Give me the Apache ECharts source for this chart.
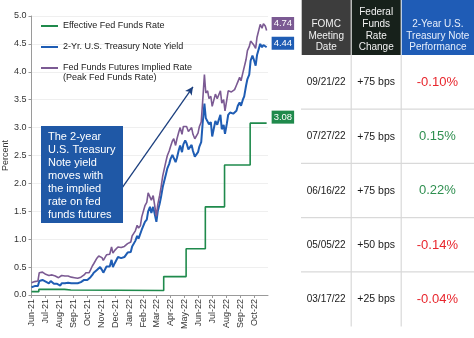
<!DOCTYPE html>
<html><head><meta charset="utf-8">
<script src="https://cdn.jsdelivr.net/npm/echarts@6/dist/echarts.min.js"></script>
<style>html,body{margin:0;padding:0;background:#fff}#c{width:474px;height:338px}</style>
</head><body><div id="c"></div>
<script>
// ---------- DATA ----------
const dates = [
 '2021-06-01','2021-06-04','2021-06-08','2021-06-11','2021-06-15','2021-06-18','2021-06-22','2021-06-25','2021-06-29',
 '2021-07-02','2021-07-06','2021-07-09','2021-07-13','2021-07-16','2021-07-20','2021-07-23','2021-07-27','2021-07-30',
 '2021-08-03','2021-08-06','2021-08-10','2021-08-13','2021-08-17','2021-08-20','2021-08-24','2021-08-27','2021-08-31',
 '2021-09-03','2021-09-07','2021-09-10','2021-09-14','2021-09-17','2021-09-21','2021-09-24','2021-09-28',
 '2021-10-01','2021-10-05','2021-10-08','2021-10-12','2021-10-15','2021-10-19','2021-10-22','2021-10-26','2021-10-29',
 '2021-11-02','2021-11-05','2021-11-09','2021-11-12','2021-11-16','2021-11-19','2021-11-23','2021-11-26','2021-11-30',
 '2021-12-03','2021-12-07','2021-12-10','2021-12-14','2021-12-17','2021-12-21','2021-12-24','2021-12-28','2021-12-31',
 '2022-01-04','2022-01-07','2022-01-11','2022-01-14','2022-01-18','2022-01-21','2022-01-25','2022-01-28',
 '2022-02-01','2022-02-04','2022-02-08','2022-02-11','2022-02-15','2022-02-18','2022-02-22','2022-02-25',
 '2022-03-01','2022-03-04','2022-03-08','2022-03-11','2022-03-15','2022-03-18','2022-03-22','2022-03-25','2022-03-29',
 '2022-04-01','2022-04-05','2022-04-08','2022-04-12','2022-04-15','2022-04-19','2022-04-22','2022-04-26','2022-04-29',
 '2022-05-03','2022-05-06','2022-05-10','2022-05-13','2022-05-17','2022-05-20','2022-05-24','2022-05-27','2022-05-31',
 '2022-06-03','2022-06-07','2022-06-10','2022-06-14','2022-06-17','2022-06-21','2022-06-24','2022-06-28',
 '2022-07-01','2022-07-05','2022-07-08','2022-07-12','2022-07-15','2022-07-19','2022-07-22','2022-07-26','2022-07-29',
 '2022-08-02','2022-08-05','2022-08-09','2022-08-12','2022-08-16','2022-08-19','2022-08-23','2022-08-26','2022-08-30',
 '2022-09-02','2022-09-06','2022-09-09','2022-09-13','2022-09-16','2022-09-20','2022-09-23','2022-09-27','2022-09-30',
 '2022-10-04','2022-10-07','2022-10-11','2022-10-14','2022-10-18','2022-10-21','2022-10-25','2022-10-28'
];
const treasury2y = [
 0.14,0.15,0.16,0.15,0.16,0.25,0.25,0.27,0.25,
 0.24,0.22,0.21,0.25,0.23,0.20,0.20,0.20,0.19,
 0.17,0.21,0.23,0.21,0.21,0.22,0.23,0.21,0.21,
 0.21,0.22,0.21,0.21,0.23,0.22,0.27,0.30,
 0.27,0.29,0.32,0.36,0.40,0.39,0.45,0.47,0.50,
 0.45,0.40,0.42,0.51,0.51,0.51,0.63,0.50,0.57,
 0.59,0.68,0.66,0.66,0.64,0.68,0.70,0.76,0.73,
 0.77,0.87,0.90,0.97,1.06,1.01,1.03,1.17,
 1.18,1.31,1.35,1.50,1.58,1.47,1.58,1.57,
 1.31,1.50,1.63,1.75,1.94,1.95,2.17,2.27,2.35,
 2.44,2.51,2.53,2.38,2.46,2.60,2.68,2.56,2.70,
 2.77,2.72,2.61,2.58,2.69,2.58,2.48,2.47,2.56,
 2.66,2.74,3.06,3.43,3.17,3.20,3.06,3.10,
 2.84,2.82,3.12,3.05,3.13,3.23,2.97,3.05,2.89,
 3.07,3.23,3.27,3.25,3.25,3.26,3.30,3.39,3.45,
 3.39,3.50,3.56,3.75,3.87,3.95,4.20,4.29,4.22,
 4.11,4.30,4.30,4.50,4.44,4.48,4.48,4.44
];
const impliedPeak = [
 0.22,0.23,0.24,0.23,0.25,0.40,0.39,0.41,0.38,
 0.37,0.36,0.35,0.38,0.36,0.33,0.34,0.33,0.31,
 0.30,0.35,0.36,0.34,0.33,0.34,0.34,0.32,0.31,
 0.31,0.32,0.30,0.30,0.32,0.31,0.36,0.40,
 0.37,0.40,0.45,0.52,0.56,0.58,0.66,0.70,0.73,
 0.67,0.62,0.64,0.72,0.74,0.73,0.86,0.75,0.80,
 0.78,0.86,0.84,0.85,0.83,0.87,0.88,0.92,0.90,
 0.95,1.06,1.08,1.15,1.25,1.20,1.24,1.40,
 1.42,1.60,1.66,1.83,1.80,1.70,1.78,1.76,
 1.41,1.62,1.78,1.92,2.14,2.17,2.40,2.50,2.58,
 2.66,2.76,2.80,2.68,2.80,2.92,3.00,2.88,3.02,
 3.04,3.02,2.93,2.90,3.00,2.88,2.80,2.79,2.90,
 3.02,3.10,3.45,3.95,3.62,3.66,3.52,3.56,
 3.38,3.36,3.60,3.52,3.58,3.66,3.44,3.50,3.30,
 3.50,3.66,3.68,3.64,3.66,3.68,3.76,3.82,3.90,
 3.84,3.98,4.00,4.22,4.38,4.45,4.55,4.58,4.48,
 4.42,4.62,4.64,4.85,4.78,4.86,4.82,4.74
];
const effrDates  = ['2021-06-01','2021-06-17','2021-08-12','2021-08-26','2022-03-17','2022-05-05','2022-06-16','2022-07-28','2022-09-22','2022-10-28'];
const effrValues = [0.06,0.10,0.09,0.08,0.33,0.83,1.58,2.33,3.08,3.08];

const seriesNames = ['Effective Fed Funds Rate','2-Yr. U.S. Treasury Note Yield','Fed Funds Futures Implied Rate'];
const legendSubLine = '(Peak Fed Funds Rate)';
const calloutText = 'The 2-year\nU.S. Treasury\nNote yield\nmoves with\nthe implied\nrate on fed\nfunds futures';
const monthNames = ['Jan','Feb','Mar','Apr','May','Jun','Jul','Aug','Sep','Oct','Nov','Dec'];

const tableHeaders = ['FOMC\nMeeting\nDate','Federal\nFunds\nRate\nChange','2-Year U.S.\nTreasury Note\nPerformance'];
const fomcDates = ['09/21/22','07/27/22','06/16/22','05/05/22','03/17/22'];
const rateChanges = ['+75 bps','+75 bps','+75 bps','+50 bps','+25 bps'];
const notePerformance = [-0.10, 0.15, 0.22, -0.14, -0.04];

// ---------- STYLE / LAYOUT ----------
const FONT = '"Liberation Sans", Arial, Helvetica, sans-serif';
const C_GREEN = '#1f8a4c', C_BLUE = '#1f5db4', C_PURPLE = '#7b5a93';
const colX = [301.7, 351.7, 401.7];
const colW = [49, 49, 72.3];
const headerBg = ['#3d3d3d', '#17211b', '#1f5cb6'];
const headerH = 55, rowH = 54.2;

const chart = echarts.init(document.getElementById('c'), null, {renderer:'canvas'});
const P = s => echarts.time.parse(s);

const graphic = [];
// callout box
graphic.push({type:'rect', shape:{x:41, y:126, width:82, height:97}, style:{fill:'#1f58a6'}, z:10});
graphic.push({type:'text', x:48, y:131, z:11, style:{text:calloutText, fill:'#ffffff', fontSize:11, fontFamily:FONT, lineHeight:12.9, align:'left', verticalAlign:'top'}});
// legend second line
graphic.push({type:'text', x:63, y:78, z:11, style:{text:legendSubLine, fill:'#1a1a1a', fontSize:9, fontFamily:FONT, align:'left', verticalAlign:'middle'}});
// table header
tableHeaders.forEach((h,i)=>{
  graphic.push({type:'rect', shape:{x:colX[i], y:0, width:colW[i], height:headerH}, style:{fill:headerBg[i]}});
  graphic.push({type:'text', x:colX[i]+colW[i]/2, y:53.5, style:{text:h, fill: i===2 ? '#e6eefb' : '#f2f2f2', fontSize:10, fontFamily:FONT, lineHeight:11.7, align:'center', verticalAlign:'bottom'}});
});
// grid lines of table
for (let k=1;k<fomcDates.length;k++){
  const y = headerH + rowH*k;
  graphic.push({type:'line', shape:{x1:301, y1:y, x2:474, y2:y}, style:{stroke:'#d9d9d9', lineWidth:1.2}});
}
[351.2, 401.2].forEach(x=>{
  graphic.push({type:'line', shape:{x1:x, y1:headerH, x2:x, y2:326.5}, style:{stroke:'#d9d9d9', lineWidth:1.2}});
});
// table rows
fomcDates.forEach((d,i)=>{
  const yc = headerH + rowH*i + 27.5;
  graphic.push({type:'text', x:colX[0]+colW[0]/2, y:yc, style:{text:d, fill:'#1a1a1a', fontSize:10, fontFamily:FONT, align:'center', verticalAlign:'middle'}});
  graphic.push({type:'text', x:colX[1]+colW[1]/2, y:yc, style:{text:rateChanges[i], fill:'#1a1a1a', fontSize:10.5, fontFamily:FONT, align:'center', verticalAlign:'middle'}});
  const v = notePerformance[i];
  graphic.push({type:'text', x:colX[2]+colW[2]/2-0.5, y:yc, style:{text:v.toFixed(2)+'%', fill: v<0 ? '#e8262d' : '#2f8f50', fontSize:13, fontFamily:FONT, align:'center', verticalAlign:'middle'}});
});

const endLabel = (bg, dy) => ({
  show:true, formatter: p => p.value[1].toFixed(2), color:'#fff', backgroundColor:bg,
  padding:[2,2,1,2], fontSize:9.5, fontFamily:FONT, distance:5, offset:[0,dy]
});

const option = {
  animation:false,
  textStyle:{fontFamily:FONT},
  grid:{left:31.5, right:206, top:16, bottom:43, containLabel:false},
  legend:{
    show:true, orient:'vertical', left:41, top:20.5, padding:0, itemGap:10, itemWidth:17, itemHeight:2, icon:'rect',
    textStyle:{fontSize:9, color:'#1a1a1a', fontFamily:FONT, lineHeight:11},
    data: seriesNames, selectedMode:false
  },
  xAxis:{
    type:'time', min:P('2021-06-01'), max:P('2022-10-31'),
    minInterval:31*86400000, maxInterval:31*86400000,
    axisLine:{show:true, lineStyle:{color:'#9a9a9a', width:1}},
    axisTick:{show:true, length:3, lineStyle:{color:'#9a9a9a'}},
    splitLine:{show:false},
    axisLabel:{rotate:90, fontSize:9, color:'#333', margin:4, hideOverlap:false,
      formatter: v => { const d = new Date(v); return monthNames[d.getMonth()] + '-' + String(d.getFullYear()).slice(2); }}
  },
  yAxis:{
    type:'value', min:0, max:5, interval:0.5,
    name:'Percent', nameLocation:'middle', nameGap:19, nameTextStyle:{fontSize:9, color:'#333'},
    axisLine:{show:true, lineStyle:{color:'#9a9a9a', width:1}},
    axisTick:{show:true, length:3, lineStyle:{color:'#9a9a9a'}},
    splitLine:{show:true, lineStyle:{color:'#efefef', width:1}},
    axisLabel:{fontSize:9, color:'#333', margin:5, formatter: v => v.toFixed(1)}
  },
  series:[
    {name:seriesNames[0], type:'line', step:'end', symbol:'none', color:C_GREEN,
     lineStyle:{width:1.6, color:C_GREEN},
     data: effrDates.map((d,i)=>[P(d), effrValues[i]]),
     endLabel: endLabel(C_GREEN, -6)},
    {name:seriesNames[1], type:'line', symbol:'none', color:C_BLUE,
     lineStyle:{width:2, color:C_BLUE},
     data: dates.map((d,i)=>[P(d), treasury2y[i]]),
     endLabel: endLabel(C_BLUE, -4),
     markLine:{silent:true, symbol:['none','arrow'], symbolSize:[6,8], label:{show:false},
       lineStyle:{color:'#1b3f7e', width:1.3, type:'solid'},
       data:[[{coord:[P('2021-12-16'),1.92]},{coord:[P('2022-05-20'),3.73]}]]}},
    {name:seriesNames[2], type:'line', symbol:'none', color:C_PURPLE,
     lineStyle:{width:1.6, color:C_PURPLE},
     data: dates.map((d,i)=>[P(d), impliedPeak[i]]),
     endLabel: endLabel(C_PURPLE, -7)}
  ],
  graphic: graphic
};
chart.setOption(option);
</script>
</body></html>
